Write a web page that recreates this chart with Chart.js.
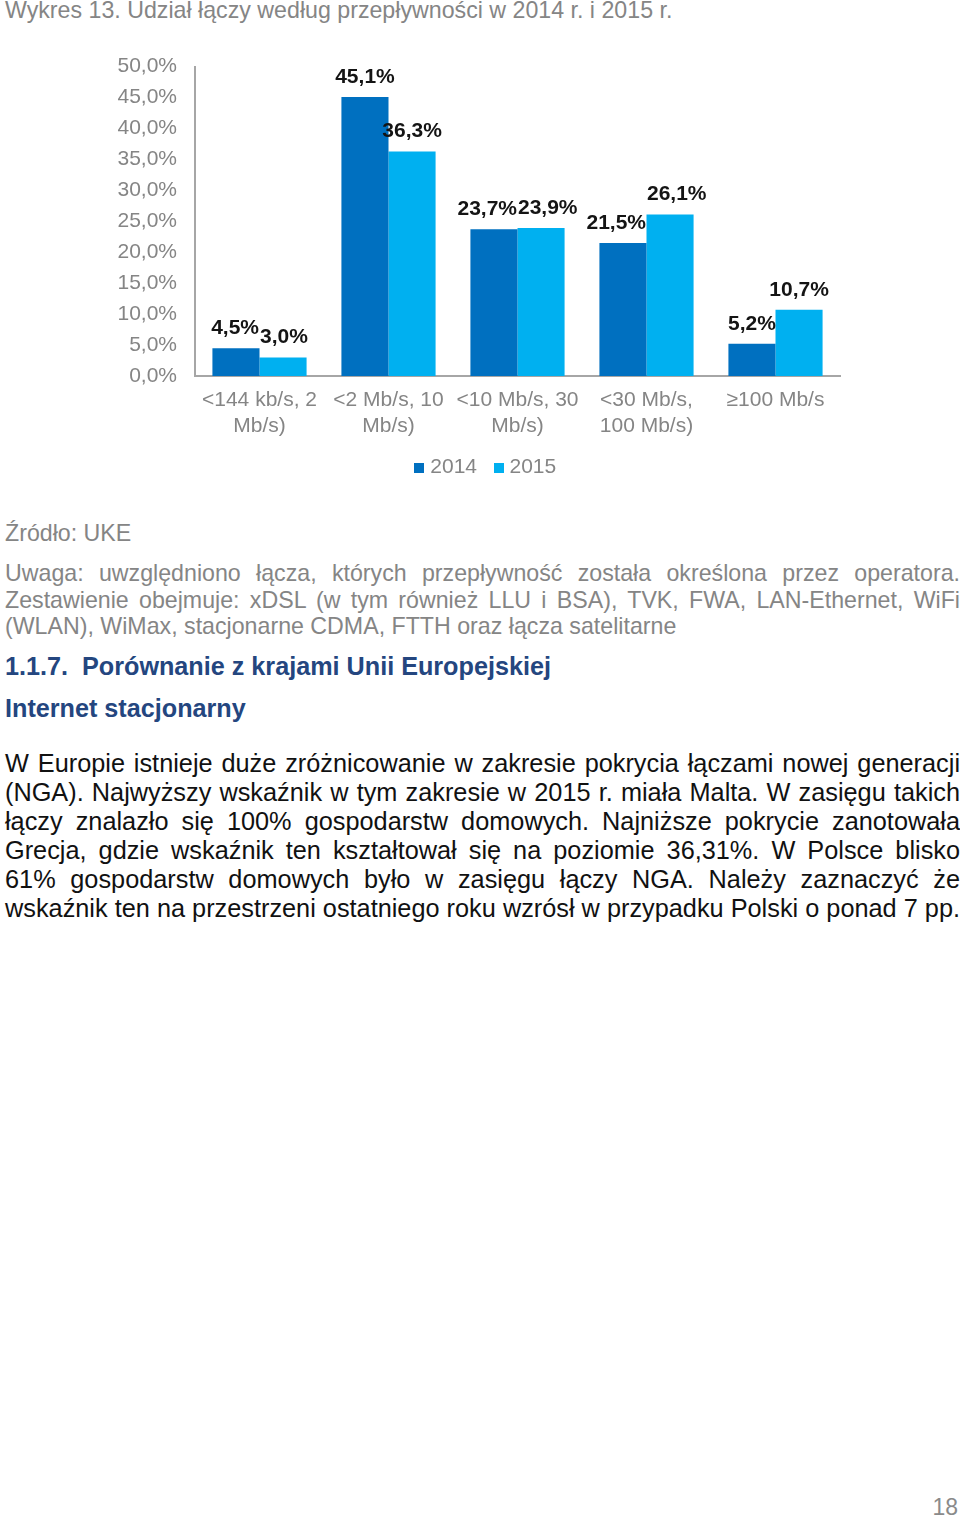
<!DOCTYPE html>
<html lang="pl">
<head>
<meta charset="utf-8">
<script src="https://cdn.jsdelivr.net/npm/chart.js@4"></script>
<style>
  html, body { margin: 0; padding: 0; background: #fff; }
  body { width: 960px; height: 1518px; position: relative; overflow: hidden;
         font-family: "Liberation Sans", Arial, Helvetica, sans-serif; }
  .abs { position: absolute; left: 5px; width: 955px; margin: 0; }
  .title { top: -3px; font-size: 23.2px; line-height: 26px; color: #858585; white-space: nowrap; }
  .src { top: 520px; font-size: 23.2px; line-height: 26px; color: #858585; }
  .note { top: 560px; font-size: 23.2px; line-height: 26.5px; color: #858585; }
  .h1 { top: 652px; font-size: 25.2px; line-height: 28px; font-weight: bold; color: #24467f; white-space: nowrap; }
  .h2 { top: 694px; font-size: 25.2px; line-height: 28px; font-weight: bold; color: #24467f; }
  .body { top: 749px; font-size: 25.3px; line-height: 29px; color: #111; }
  .ln { display: block; white-space: nowrap; text-align: justify; text-align-last: justify; }
  .ln.last { text-align-last: left; }
  .page { position: absolute; right: 2px; top: 1494px; font-size: 23px; color: #8a8a8a; }
  #wrap { position: absolute; left: 100px; top: 36px; width: 760px; height: 452px; }
</style>
</head>
<body>
<p class="abs title">Wykres 13. Udział łączy według przepływności w 2014 r. i 2015 r.</p>

<div id="wrap"><canvas id="c"></canvas></div>

<p class="abs src">Źródło: UKE</p>
<p class="abs note"><span class="ln">Uwaga: uwzględniono łącza, których przepływność została określona przez operatora.</span><span class="ln">Zestawienie obejmuje: xDSL (w tym również LLU i BSA), TVK, FWA, LAN-Ethernet, WiFi</span><span class="ln last">(WLAN), WiMax, stacjonarne CDMA, FTTH oraz łącza satelitarne</span></p>
<p class="abs h1">1.1.7.&nbsp; Porównanie z krajami Unii Europejskiej</p>
<p class="abs h2">Internet stacjonarny</p>
<p class="abs body"><span class="ln">W Europie istnieje duże zróżnicowanie w zakresie pokrycia łączami nowej generacji</span><span class="ln">(NGA). Najwyższy wskaźnik w tym zakresie w 2015 r. miała Malta. W zasięgu takich</span><span class="ln">łączy znalazło się 100% gospodarstw domowych. Najniższe pokrycie zanotowała</span><span class="ln">Grecja, gdzie wskaźnik ten kształtował się na poziomie 36,31%. W Polsce blisko</span><span class="ln">61% gospodarstw domowych było w zasięgu łączy NGA. Należy zaznaczyć że</span><span class="ln">wskaźnik ten na przestrzeni ostatniego roku wzrósł w przypadku Polski o ponad 7 pp.</span></p>
<div class="page">18</div>

<script>
const categories = [
  ["<144 kb/s, 2", "Mb/s)"],
  ["<2 Mb/s, 10", "Mb/s)"],
  ["<10 Mb/s, 30", "Mb/s)"],
  ["<30 Mb/s,", "100 Mb/s)"],
  "≥100 Mb/s"
];
const seriesNames = ["2014", "2015"];
const values2014 = [4.5, 45.1, 23.7, 21.5, 5.2];
const values2015 = [3.0, 36.3, 23.9, 26.1, 10.7];
const yTicks = [0, 5, 10, 15, 20, 25, 30, 35, 40, 45, 50];
const seriesColors = ['#0070c0', '#00b0f0'];

const fmt = v => v.toFixed(1).replace('.', ',') + '%';
const FONT = '"Liberation Sans", Arial, sans-serif';
const GRAY = '#858585';

function makeBox(color) {
  const c = document.createElement('canvas');
  c.width = 10; c.height = 10;
  const x = c.getContext('2d');
  x.fillStyle = color; x.fillRect(0, 0, 10, 10);
  return c;
}
const legendBoxes = seriesColors.map(makeBox);

const dataLabels = {
  id: 'dataLabels',
  afterDatasetsDraw(chart) {
    const ctx = chart.ctx;
    ctx.save();
    ctx.font = 'bold 21px ' + FONT;
    ctx.fillStyle = '#141414';
    ctx.textAlign = 'center';
    ctx.textBaseline = 'middle';
    const m0 = chart.getDatasetMeta(0).data, m1 = chart.getDatasetMeta(1).data;
    m0.forEach((b0, j) => {
      const b1 = m1[j];
      const t0 = fmt(chart.data.datasets[0].data[j]);
      const t1 = fmt(chart.data.datasets[1].data[j]);
      const w0 = ctx.measureText(t0).width, w1 = ctx.measureText(t1).width;
      const bw = b0.width;
      let s0 = 0, s1 = 0;
      if (Math.abs(b0.y - b1.y) < 32) {
        const ov = ((w0 + w1) / 2 - bw) / 2;
        if (ov > 0) { s0 = -ov - 0.5; s1 = ov + 0.5; }
      }
      ctx.fillText(t0, b0.x + s0, b0.y - 20);
      ctx.fillText(t1, b1.x + s1, b1.y - 20);
    });
    ctx.restore();
  }
};

const legendShift = {
  id: 'legendShift',
  afterLayout(chart) {
    if (chart.legend) { chart.legend.left += 17.5; chart.legend.right += 17.5; }
  }
};

new Chart(document.getElementById('c'), {
  type: 'bar',
  data: {
    labels: categories,
    datasets: [
      { label: seriesNames[0], data: values2014, backgroundColor: seriesColors[0] },
      { label: seriesNames[1], data: values2015, backgroundColor: seriesColors[1] }
    ]
  },
  options: {
    responsive: true,
    maintainAspectRatio: false,
    animation: false,
    categoryPercentage: 0.73,
    barPercentage: 1.0,
    layout: { padding: { top: 5, right: 20, left: 0, bottom: 0 } },
    plugins: {
      tooltip: { enabled: false },
      legend: {
        position: 'bottom',
        labels: {
          usePointStyle: true, pointStyleWidth: 1, boxHeight: 10, padding: 21,
          color: GRAY, font: { family: FONT, size: 21 },
          generateLabels(chart) {
            const items = Chart.defaults.plugins.legend.labels.generateLabels(chart);
            items.forEach((it, i) => { it.pointStyle = legendBoxes[i]; });
            return items;
          }
        }
      }
    },
    scales: {
      x: {
        grid: { display: false, drawTicks: false },
        border: { display: true, color: '#a6a6a6', width: 2 },
        ticks: { color: GRAY, font: { family: FONT, size: 21 }, padding: 12, maxRotation: 0, autoSkip: false },
        afterFit(s) { s.height = 60; }
      },
      y: {
        min: 0, max: 50,
        afterBuildTicks(s) { s.ticks = yTicks.map(v => ({ value: v })); },
        grid: { display: false, drawTicks: false },
        border: { display: true, color: '#a6a6a6', width: 2 },
        ticks: { color: GRAY, font: { family: FONT, size: 21 }, padding: 18, callback: v => fmt(v) },
        afterFit(s) { s.width = 95; }
      }
    }
  },
  plugins: [dataLabels, legendShift]
});
</script>
</body>
</html>
